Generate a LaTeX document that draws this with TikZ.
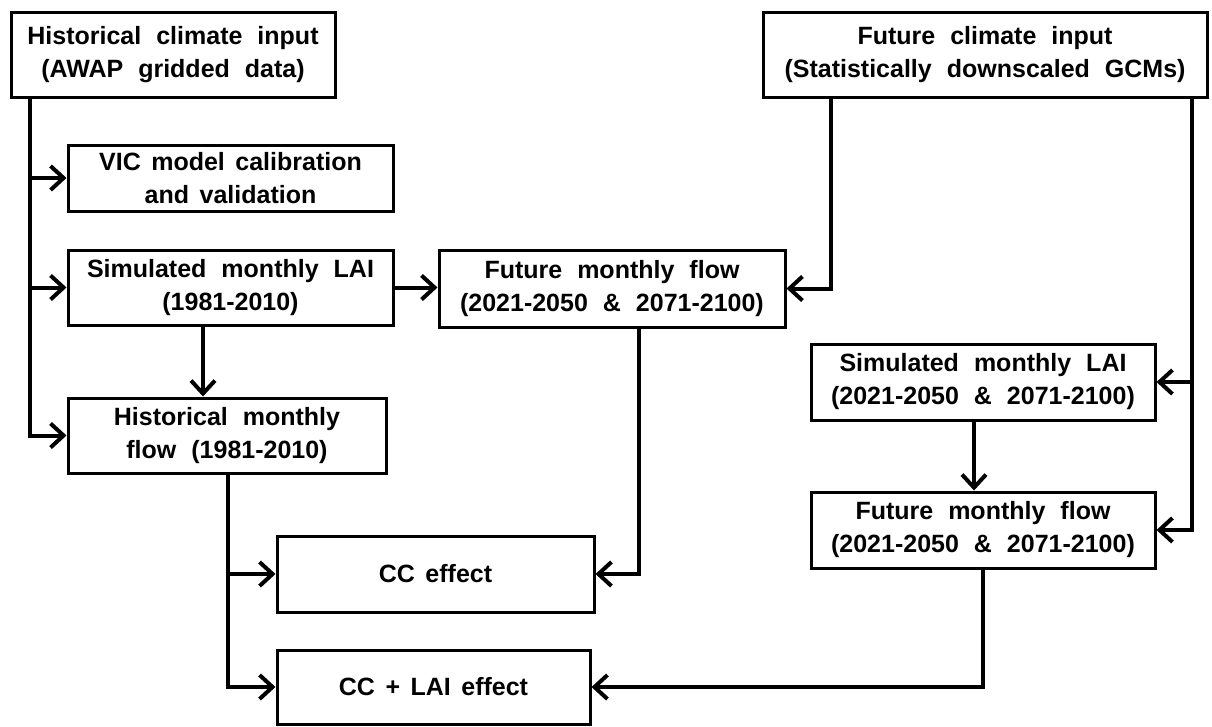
\documentclass[tikz,border=0pt]{standalone}
\usepackage{fontspec}
\setmainfont{Liberation Sans}
\usetikzlibrary{arrows.meta}
\newcommand\boxfont[1]{\fontsize{25}{33}\selectfont\bfseries\spaceskip=#1 plus 2pt minus 2pt\relax}
\begin{document}
\begin{tikzpicture}[x=1pt,y=-1pt,
  box/.style={draw, line width=3pt, align=center, inner sep=0pt, font=\boxfont{15pt}},
  tight/.style={font=\boxfont{10.5pt}},
  conn/.style={line width=4pt},
  arr/.style={conn, -{Straight Barb[length=13pt,width=24pt,line width=4pt]}}]
\useasboundingbox (0,0) rectangle (1212,726);
\node[box, minimum width=324pt, minimum height=85pt] (hist) at (173,54.5) {Historical climate input\\(AWAP gridded data)};
\node[box, minimum width=444pt, minimum height=85pt] (fut) at (985,54.5) {Future climate input\\(Statistically downscaled GCMs)};
\node[box, tight, minimum width=325pt, minimum height=66pt] (vic) at (230.5,178) {VIC model calibration\\and validation};
\node[box, minimum width=325pt, minimum height=75pt] (lai1) at (230.5,287.5) {Simulated monthly LAI\\(1981-2010)};
\node[box, minimum width=346pt, minimum height=77pt] (fflow1) at (612,288.5) {Future monthly flow\\(2021-2050 \& 2071-2100)};
\node[box, minimum width=318pt, minimum height=75pt] (hflow) at (227,435.5) {Historical monthly\\flow (1981-2010)};
\node[box, minimum width=344pt, minimum height=76pt] (lai2) at (983,382) {Simulated monthly LAI\\(2021-2050 \& 2071-2100)};
\node[box, minimum width=344pt, minimum height=76pt] (fflow2) at (983,530) {Future monthly flow\\(2021-2050 \& 2071-2100)};
\node[box, tight, minimum width=317pt, minimum height=76pt] (cc) at (435.5,574) {CC effect};
\node[box, tight, minimum width=313pt, minimum height=74pt] (cclai) at (433.5,687) {CC + LAI effect};
\coordinate (lx) at (30,0);
\coordinate (dx) at (203,0);
\coordinate (r1) at (831,0);
\coordinate (r2) at (1192,0);
\coordinate (dx2) at (974,0);
\coordinate (bx) at (228,0);
\coordinate (mx) at (639,0);
\draw[arr] (hist.south -| lx) |- (hflow.west);
\draw[arr] (lx |- vic) -- (vic.west);
\draw[arr] (lx |- lai1) -- (lai1.west);
\draw[arr] (lai1.east) -- (lai1.east -| fflow1.west);
\draw[arr] (lai1.south -| dx) -- (hflow.north -| dx);
\draw[arr] (fut.south -| r1) |- (fflow1.east);
\draw[arr] (fut.south -| r2) |- (fflow2.east);
\draw[arr] (r2 |- lai2) -- (lai2.east);
\draw[arr] (lai2.south -| dx2) -- (fflow2.north -| dx2);
\draw[arr] (hflow.south -| bx) |- (cclai.west);
\draw[arr] (bx |- cc) -- (cc.west);
\draw[arr] (fflow1.south -| mx) |- (cc.east);
\draw[arr] (fflow2.south) |- (cclai.east);
\end{tikzpicture}
\end{document}
